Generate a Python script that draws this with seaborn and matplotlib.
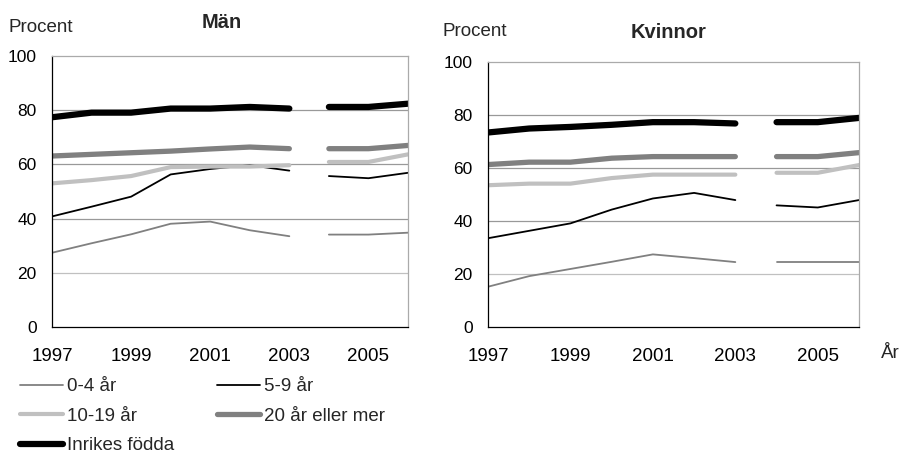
"""Andel sysselsatta efter vistelsetid, män och kvinnor 1997-2006."""

import matplotlib

matplotlib.use("Agg")
import matplotlib.pyplot as plt
import seaborn as sns

YEARS = [1997, 1998, 1999, 2000, 2001, 2002, 2003, 2004, 2005, 2006]
BREAK = 7  # series is broken between 2003 and 2004

SERIES = ["0-4 år", "5-9 år", "10-19 år", "20 år eller mer", "Inrikes födda"]

MEN_0_4 = [27.4, 30.9, 34.2, 38.1, 38.9, 35.7, 33.5, 34.1, 34.1, 34.8]
MEN_5_9 = [40.8, 44.4, 48.1, 56.3, 58.3, 59.7, 57.7, 55.7, 54.9, 56.9]
MEN_10_19 = [53.0, 54.2, 55.7, 59.0, 59.2, 59.2, 59.7, 60.9, 60.9, 63.7]
MEN_20 = [63.1, 63.7, 64.3, 64.9, 65.7, 66.4, 65.8, 65.8, 65.8, 67.0]
MEN_INRIKES = [77.4, 79.1, 79.1, 80.6, 80.6, 81.2, 80.6, 81.2, 81.2, 82.4]

WOMEN_0_4 = [15.2, 19.2, 21.9, 24.6, 27.4, 26.0, 24.5, 24.5, 24.5, 24.5]
WOMEN_5_9 = [33.5, 36.3, 39.1, 44.3, 48.5, 50.6, 47.9, 45.9, 45.1, 47.9]
WOMEN_10_19 = [53.5, 54.1, 54.1, 56.2, 57.5, 57.5, 57.5, 58.2, 58.2, 61.1]
WOMEN_20 = [61.3, 62.2, 62.2, 63.7, 64.3, 64.3, 64.3, 64.3, 64.3, 65.8]
WOMEN_INRIKES = [73.4, 74.9, 75.5, 76.3, 77.3, 77.3, 76.8, 77.3, 77.3, 78.9]

STYLES = {
    "0-4 år": dict(color="#808080", linewidth=1.3),
    "5-9 år": dict(color="#000000", linewidth=1.3),
    "10-19 år": dict(color="#c0c0c0", linewidth=3.0),
    "20 år eller mer": dict(color="#808080", linewidth=3.8),
    "Inrikes födda": dict(color="#000000", linewidth=4.5),
}

FONT = 13.5
YFONT = 12.5


def draw_panel(ax, values):
    for name, vals in zip(SERIES, values):
        style = STYLES[name]
        sns.lineplot(x=YEARS[:BREAK], y=vals[:BREAK], ax=ax, label=name,
                     solid_capstyle="round", **style)
        sns.lineplot(x=YEARS[BREAK:], y=vals[BREAK:], ax=ax,
                     solid_capstyle="round", **style)
    ax.set_xlim(YEARS[0], YEARS[-1])
    ax.set_ylim(0, 100)
    ax.set_yticks(range(0, 101, 20))
    ax.set_xticks(YEARS)
    ax.set_xticklabels([str(y) if y % 2 == 1 else "" for y in YEARS])
    for y in (20, 40, 60, 80):
        ax.axhline(y, color="#999999" if y != 20 else "#c0c0c0", linewidth=0.9, zorder=0)
    for side in ("top", "right"):
        ax.spines[side].set_color("#aaaaaa")
        ax.spines[side].set_linewidth(0.9)
    for side in ("left", "bottom"):
        ax.spines[side].set_color("black")
        ax.spines[side].set_linewidth(0.9)
    ax.tick_params(axis="both", direction="out", length=5, width=0.9, colors="black")
    ax.tick_params(axis="x", labelsize=FONT, pad=10)
    ax.tick_params(axis="y", labelsize=YFONT, pad=6)
    ax.set_xlabel("")
    ax.set_ylabel("")
    ax.grid(False)
    if ax.get_legend():
        ax.get_legend().remove()


sns.set_style("white")
plt.rcParams["font.family"] = ["Liberation Sans", "DejaVu Sans"]

fig = plt.figure(figsize=(9.02, 4.57), dpi=100)
W, H = 902, 457
ax_men = fig.add_axes([52 / W, 1 - 327 / H, 356 / W, 271 / H])
ax_women = fig.add_axes([488 / W, 1 - 327 / H, 371 / W, 265 / H])

draw_panel(ax_men, [MEN_0_4, MEN_5_9, MEN_10_19, MEN_20, MEN_INRIKES])
draw_panel(ax_women, [WOMEN_0_4, WOMEN_5_9, WOMEN_10_19, WOMEN_20, WOMEN_INRIKES])

fig.text(8 / W, 1 - 27 / H, "Procent", fontsize=FONT, va="center", ha="left")
fig.text(222 / W, 1 - 22 / H, "Män", fontsize=14.5, fontweight="bold", va="center", ha="center")
fig.text(443 / W, 1 - 32 / H, "Procent", fontsize=FONT, va="center", ha="left")
fig.text(669 / W, 1 - 32 / H, "Kvinnor", fontsize=14.5, fontweight="bold", va="center", ha="center")
fig.text(900 / W, 1 - 354 / H, "År", fontsize=FONT, va="center", ha="right")

handles, labels = ax_men.get_legend_handles_labels()
order = [0, 2, 4, 1, 3]
fig.legend([handles[i] for i in order], [labels[i] for i in order],
           ncol=2, loc="upper left", bbox_to_anchor=(20 / W, 1 - 378 / H),
           frameon=False, fontsize=FONT, handlelength=2.3, handletextpad=0.2,
           columnspacing=2.3, labelspacing=0.66, borderpad=0, borderaxespad=0)

fig.savefig("out.png", dpi=100)
